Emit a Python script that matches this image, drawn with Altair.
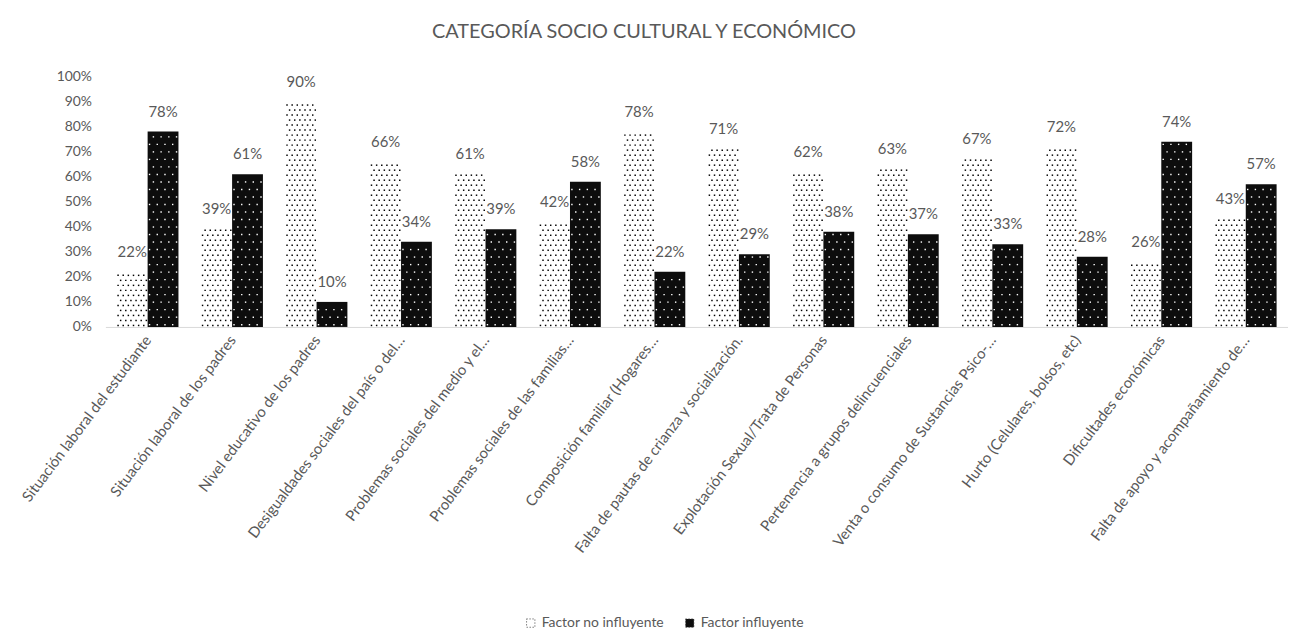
import json
import altair as alt
import pandas as pd

categories = [
    "Situación laboral del estudiante",
    "Situación laboral de los padres",
    "Nivel educativo de los padres",
    "Desigualdades sociales del país o del…",
    "Problemas sociales del medio y el…",
    "Problemas sociales de las familias…",
    "Composición familiar (Hogares…",
    "Falta de pautas de crianza y socialización.",
    "Explotación Sexual/Trata de Personas",
    "Pertenencia a grupos delincuenciales",
    "Venta o consumo de Sustancias Psico-…",
    "Hurto (Celulares, bolsos, etc)",
    "Dificultades económicas",
    "Falta de apoyo y acompañamiento de…",
]
no_influyente = [22, 39, 90, 66, 61, 42, 78, 71, 62, 63, 67, 72, 26, 43]
influyente = [78, 61, 10, 34, 39, 58, 22, 29, 38, 37, 33, 28, 74, 57]
series_names = ["Factor no influyente", "Factor influyente"]
y_ticks = [0, 10, 20, 30, 40, 50, 60, 70, 80, 90, 100]
title_text = "CATEGORÍA SOCIO CULTURAL Y ECONÓMICO"

records = []
for i, c in enumerate(categories):
    records.append({"idx": i, "cat": c, "series": series_names[0], "value": no_influyente[i]})
    records.append({"idx": i, "cat": c, "series": series_names[1], "value": influyente[i]})
df = pd.DataFrame(records)

FONT = "Lato"
GREY = "#595959"
W = 0.365
N = len(categories)
IS_NO = f"datum.series == '{series_names[0]}'"

xs = alt.Scale(domain=[-0.5, N - 0.5], nice=False, zero=False)
ys = alt.Scale(domain=[0, 100], nice=False)

x_axis = alt.Axis(
    values=list(range(N)),
    labelExpr=json.dumps(categories, ensure_ascii=False) + "[datum.value]",
    labelAngle=-53, labelAlign="right", labelBaseline="middle",
    labelPadding=10, labelLimit=400, labelOverlap=False, labelFlush=False,
    ticks=False, grid=False, domainColor="#d9d9d9", domainWidth=1,
    labelFontSize=15, labelColor=GREY, labelFont=FONT, title=None,
)
y_axis = alt.Axis(
    values=y_ticks, labelExpr="datum.value + '%'", domain=False, ticks=False, grid=False,
    labelOverlap=False, labelFlush=False, labelSeparation=0,
    labelPadding=14, labelFontSize=14, labelColor=GREY, labelFont=FONT, title=None,
)

base = alt.Chart(df).transform_calculate(
    x0=f"datum.idx - ({IS_NO} ? {W} : 0)",
).transform_calculate(
    x1=f"datum.x0 + {W}",
    xm=f"datum.x0 + {W / 2}",
    lab="datum.value + '%'",
)

bars = base.mark_bar().encode(
    x=alt.X("x0:Q", scale=xs, axis=x_axis),
    x2="x1:Q",
    y=alt.Y("value:Q", scale=ys, axis=y_axis),
    y2=alt.datum(0),
    fill=alt.Fill(
        "series:N",
        scale=alt.Scale(domain=series_names, range=["#ffffff", "#0d0d0d"]),
        legend=alt.Legend(
            title=None, orient="none", legendX=421, legendY=543,
            direction="horizontal", symbolType="square", symbolSize=70,
            labelFontSize=14, labelColor=GREY, labelFont=FONT, columnPadding=18,
            symbolStrokeColor="#404040", symbolStrokeWidth=1, symbolDash=[1, 2],
        ),
    ),
)


def dots(is_no, ncol, dy, color, size):
    cond = IS_NO if is_no else f"!({IS_NO})"
    nrow = int(100 / dy) + 2
    return (
        base.transform_filter(cond)
        .transform_calculate(r=f"sequence(0, {nrow})")
        .transform_flatten(["r"])
        .transform_calculate(c=f"sequence(0, {ncol})")
        .transform_flatten(["c"])
        .transform_calculate(
            yy=f"(datum.r + 0.3) * {dy}",
            xx=f"datum.x0 + (datum.c + 0.25 + 0.5 * (datum.r % 2)) * {W / ncol}",
        )
        .transform_filter("datum.yy <= datum.value - 0.3")
        .mark_square(size=size, color=color, opacity=1, strokeWidth=0)
        .encode(
            x=alt.X("xx:Q", scale=xs, axis=x_axis),
            y=alt.Y("yy:Q", scale=ys, axis=y_axis),
        )
    )


dots_no = dots(True, 6, 2, "#000000", 2.2)
dots_yes = dots(False, 4, 3, "#ffffff", 2.0)

labels = base.mark_text(
    dy=-20, fontSize=15, color=GREY, font=FONT, baseline="middle"
).encode(
    x=alt.X("xm:Q", scale=xs, axis=x_axis),
    y=alt.Y("value:Q", scale=ys, axis=y_axis),
    text=alt.Text("lab:N"),
)

chart = (
    alt.layer(bars, dots_no, dots_yes, labels)
    .properties(
        width=1190,
        height=252,
        padding={"left": 98, "top": 67, "right": 0, "bottom": 302},
        autosize=alt.AutoSizeParams(type="none"),
        title=alt.TitleParams(
            title_text, anchor="middle", dx=-53, offset=28,
            fontSize=20, fontWeight="normal", color=GREY, font=FONT,
        ),
    )
    .configure(font=FONT)
    .configure_axis(labelOverlap=False)
    .configure_view(stroke=None)
)

chart.save("out.html", embed_options={"renderer": "svg", "actions": False})
